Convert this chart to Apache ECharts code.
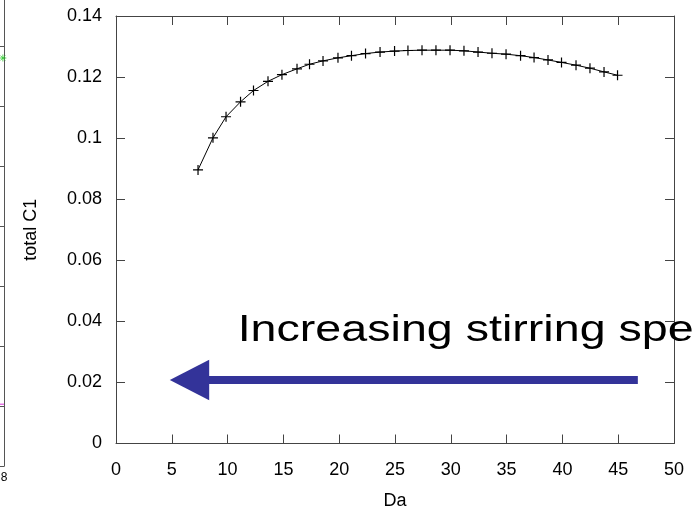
<!DOCTYPE html>
<html>
<head>
<meta charset="utf-8">
<script src="https://cdn.jsdelivr.net/npm/echarts@6/dist/echarts.min.js"></script>
<style>
  html, body { margin: 0; padding: 0; background: #fff; }
  #chart { width: 693px; height: 508px; }
</style>
</head>
<body>
<div id="chart"></div>
<script>
// Damkoehler number (Da) on x, total C1 on y
const daValues = [7.35, 8.69, 9.86, 11.16, 12.32, 13.62, 14.87, 16.22, 17.34, 18.55,
  19.89, 21.10, 22.36, 23.66, 24.96, 26.16, 27.42, 28.67, 29.93, 31.18,
  32.44, 33.69, 34.95, 36.25, 37.46, 38.71, 39.92, 41.22, 42.47, 43.73, 44.94];
const totalC1 = [0.0896, 0.1001, 0.1070, 0.1119, 0.1156, 0.1186, 0.1208, 0.1227, 0.1242, 0.1253,
  0.1263, 0.1270, 0.1277, 0.1282, 0.1285, 0.1287, 0.1288, 0.1288, 0.1288, 0.1286,
  0.1282, 0.1278, 0.1275, 0.1270, 0.1264, 0.1256, 0.1248, 0.1239, 0.1229, 0.1217, 0.1206];

// annotation arrow (data units): tail, head base, tip, level
const arrowTailX = 46.76;
const arrowBaseX = 8.35;
const arrowTipX = 4.82;
const arrowY = 0.0208;
const arrowHalfHead = 0.0066;
const arrowHalfShaft = 0.0013;
const noteText = 'Increasing stirring speed';
const noteX = 10.9;
const noteY = 0.0370;

// edge of the neighbouring panel
const sideX = [7.97];
const sideGreen = [6.8];
const sideMagentaX = [7.88, 8];
const sideMagentaY = [1.03, 1.03];

const FONT = '"Liberation Sans", Arial, Helvetica, sans-serif';
const AXIS_COLOR = '#444';

const chart = echarts.init(document.getElementById('chart'), null, { renderer: 'canvas' });

const plusSymbol = 'path://M0,5L10,5M5,0L5,10';

function mainAxis(extra) {
  return Object.assign({
    gridIndex: 0,
    axisLine: { show: true, onZero: false, lineStyle: { color: AXIS_COLOR, width: 1 } },
    axisTick: { show: true, inside: true, length: 9, lineStyle: { color: AXIS_COLOR, width: 1 } },
    splitLine: { show: false },
    axisLabel: { show: false }
  }, extra);
}

const option = {
  animation: false,
  backgroundColor: '#fff',
  grid: [
    { left: 116, right: 19, top: 16, bottom: 64.5, outerBoundsMode: 'none', containLabel: false },
    { left: -300, width: 304, top: -14, bottom: 42, outerBoundsMode: 'none', containLabel: false }
  ],
  xAxis: [
    mainAxis({
      type: 'value', position: 'bottom', min: 0, max: 50, interval: 5,
      axisLabel: { show: true, color: '#000', fontFamily: FONT, fontSize: 18, margin: 18 },
      name: 'Da', nameLocation: 'middle', nameGap: 49,
      nameTextStyle: { color: '#000', fontFamily: FONT, fontSize: 18 }
    }),
    mainAxis({ type: 'value', position: 'top', min: 0, max: 50, interval: 5 }),
    {
      type: 'value', gridIndex: 1, position: 'bottom', min: 0, max: 8, interval: 1,
      axisLine: { show: true, onZero: false, lineStyle: { color: '#555' } },
      axisTick: { show: false },
      splitLine: { show: false },
      axisLabel: { show: true, color: '#000', fontFamily: FONT, fontSize: 12, margin: 6 }
    }
  ],
  yAxis: [
    mainAxis({
      type: 'value', position: 'left', min: 0, max: 0.14, interval: 0.02,
      axisLabel: { show: true, color: '#000', fontFamily: FONT, fontSize: 18, margin: 14,
        formatter: v => String(parseFloat(v.toFixed(2))) },
      name: 'total C1', nameLocation: 'middle', nameGap: 76,
      nameTextStyle: { color: '#000', fontFamily: FONT, fontSize: 18 }
    }),
    mainAxis({ type: 'value', position: 'right', min: 0, max: 0.14, interval: 0.02 }),
    {
      type: 'value', gridIndex: 1, position: 'right', min: 0, max: 8, interval: 1,
      axisLine: { show: true, onZero: false, lineStyle: { color: '#555' } },
      axisTick: { show: true, inside: true, length: 5, lineStyle: { color: '#555' } },
      splitLine: { show: false },
      axisLabel: { show: false }
    }
  ],
  series: [
    {
      type: 'line',
      xAxisIndex: 0, yAxisIndex: 0,
      data: daValues.map((d, i) => [d, totalC1[i]]),
      symbol: plusSymbol,
      symbolSize: 10,
      showAllSymbol: true,
      lineStyle: { color: '#000', width: 1 },
      itemStyle: { color: 'rgba(0,0,0,0)', borderColor: '#000', borderWidth: 1.2 },
      z: 5
    },
    {
      type: 'scatter',
      xAxisIndex: 2, yAxisIndex: 2,
      data: sideX.map((d, i) => [d, sideGreen[i]]),
      symbol: 'path://M0,5L10,5M5,0L5,10M1.5,1.5L8.5,8.5M8.5,1.5L1.5,8.5',
      symbolSize: 7,
      itemStyle: { color: 'rgba(0,0,0,0)', borderColor: '#3c3', borderWidth: 1 }
    },
    {
      type: 'line',
      xAxisIndex: 2, yAxisIndex: 2,
      data: sideMagentaX.map((d, i) => [d, sideMagentaY[i]]),
      symbol: 'none',
      lineStyle: { color: '#d3d', width: 1 }
    }
  ]
};

chart.setOption(option);

// arrow and caption placed in data units of the main grid
const px = p => chart.convertToPixel({ gridIndex: 0 }, p);
const tip = px([arrowTipX, arrowY]);
const baseTop = px([arrowBaseX, arrowY + arrowHalfHead]);
const baseBot = px([arrowBaseX, arrowY - arrowHalfHead]);
const shaftA = px([arrowBaseX - 0.2, arrowY + arrowHalfShaft]);
const shaftB = px([arrowTailX, arrowY + arrowHalfShaft]);
const shaftC = px([arrowTailX, arrowY - arrowHalfShaft]);
const shaftD = px([arrowBaseX - 0.2, arrowY - arrowHalfShaft]);
const notePos = px([noteX, noteY]);

chart.setOption({
  graphic: [
    {
      type: 'polygon',
      shape: { points: [shaftA, shaftB, shaftC, shaftD] },
      style: { fill: '#333399' }, z: 10
    },
    {
      type: 'polygon',
      shape: { points: [tip, baseTop, baseBot] },
      style: { fill: '#333399' }, z: 10
    },
    {
      type: 'text',
      x: notePos[0], y: notePos[1],
      scaleX: 1.26,
      style: {
        text: noteText, fill: '#000',
        fontFamily: FONT, fontSize: 37,
        verticalAlign: 'middle', align: 'left'
      },
      z: 11
    }
  ]
});
</script>
</body>
</html>
